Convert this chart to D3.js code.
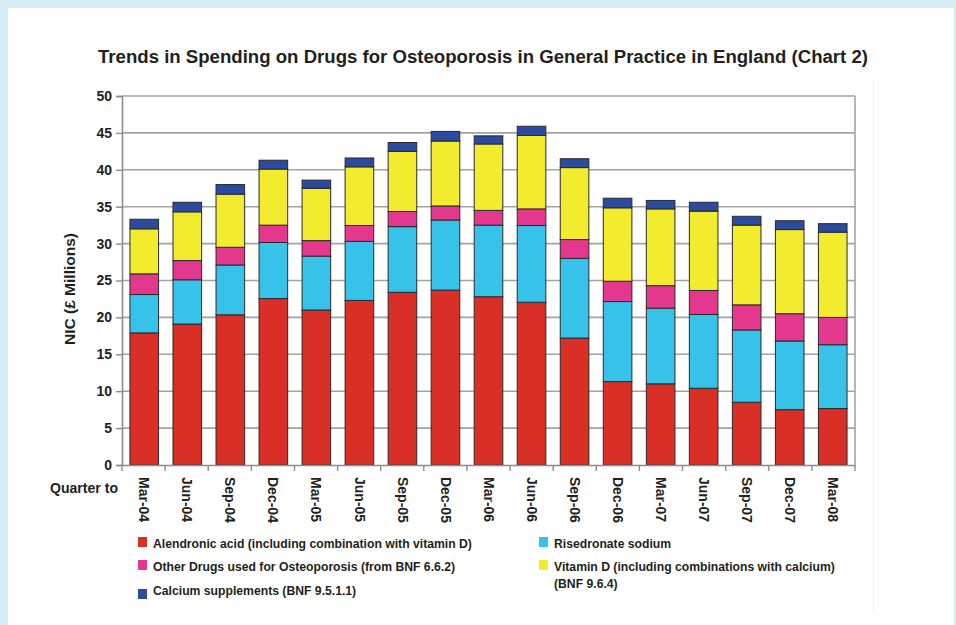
<!DOCTYPE html>
<html lang="en">
<head>
    <meta charset="UTF-8">
    <title>Osteoporosis Drug Spending</title>
    <style>
        body {
            margin: 0;
            background-color: #d5eef5;
        }
        svg text {
            font-family: Arial, "Liberation Sans", sans-serif;
            font-weight: bold;
            fill: #231f20;
        }
    </style>
    <script src="https://d3js.org/d3.v7.min.js"></script>
</head>
<body>
    <svg id="chart" width="956" height="625"></svg>
    <script>
        // Quarters on the x axis
        const quarters = ["Mar-04", "Jun-04", "Sep-04", "Dec-04", "Mar-05", "Jun-05", "Sep-05", "Dec-05",
                          "Mar-06", "Jun-06", "Sep-06", "Dec-06", "Mar-07", "Jun-07", "Sep-07", "Dec-07", "Mar-08"];

        // NIC in £ millions (stack order bottom to top)
        const alendronic = [17.9, 19.1, 20.35, 22.55, 21.0, 22.3, 23.4, 23.7, 22.8, 22.05, 17.2, 11.3, 11.0, 10.4, 8.5, 7.5, 7.65];
        const risedronate = [5.2, 6.0, 6.75, 7.6, 7.3, 8.0, 8.9, 9.5, 9.7, 10.4, 10.8, 10.85, 10.25, 10.0, 9.8, 9.3, 8.65];
        const otherDrugs = [2.8, 2.6, 2.4, 2.35, 2.1, 2.15, 2.05, 1.9, 2.0, 2.25, 2.55, 2.75, 3.05, 3.25, 3.4, 3.7, 3.7];
        const vitaminD = [6.1, 6.6, 7.2, 7.6, 7.1, 7.95, 8.15, 8.8, 9.0, 9.95, 9.75, 9.95, 10.4, 10.75, 10.8, 11.4, 11.55];
        const calcium = [1.3, 1.3, 1.3, 1.2, 1.1, 1.2, 1.2, 1.3, 1.1, 1.25, 1.2, 1.3, 1.15, 1.2, 1.2, 1.2, 1.15];

        const yTicks = [0, 5, 10, 15, 20, 25, 30, 35, 40, 45, 50];

        const series = [
            { key: "alendronic", values: alendronic, color: "#d92f27", label: ["Alendronic acid (including combination with vitamin D)"] },
            { key: "risedronate", values: risedronate, color: "#37c3e9", label: ["Risedronate sodium"] },
            { key: "other", values: otherDrugs, color: "#e3388d", label: ["Other Drugs used for Osteoporosis (from BNF 6.6.2)"] },
            { key: "vitd", values: vitaminD, color: "#f3ec2e", label: ["Vitamin D (including combinations with calcium)", "(BNF 9.6.4)"] },
            { key: "calcium", values: calcium, color: "#2c4a9f", label: ["Calcium supplements (BNF 9.5.1.1)"] }
        ];

        // table for d3.stack
        const table = quarters.map((q, i) => {
            const row = { quarter: q };
            series.forEach(s => row[s.key] = s.values[i]);
            return row;
        });

        const svg = d3.select("#chart");

        // white panel
        svg.append("rect")
            .attr("x", 8).attr("y", 8)
            .attr("width", 946).attr("height", 617)
            .attr("fill", "#fff");

        // faint line on the right of the panel
        svg.append("line")
            .attr("x1", 873.5).attr("x2", 873.5)
            .attr("y1", 80).attr("y2", 612)
            .attr("stroke", "#f1f1f1");

        const plot = { left: 122, right: 855, top: 96, bottom: 465 };

        const x = d3.scaleBand()
            .domain(quarters)
            .range([plot.left, plot.right])
            .paddingInner(0.335)
            .paddingOuter(0.185);

        const y = d3.scaleLinear()
            .domain([0, 50])
            .range([plot.bottom, plot.top]);

        // title
        svg.append("text")
            .attr("x", 483).attr("y", 63)
            .attr("text-anchor", "middle")
            .attr("font-size", 17.5)
            .attr("textLength", 770)
            .attr("lengthAdjust", "spacingAndGlyphs")
            .text("Trends in Spending on Drugs for Osteoporosis in General Practice in England (Chart 2)");

        // gridlines
        svg.append("g")
            .selectAll("line")
            .data(yTicks.filter(t => t > 0))
            .enter().append("line")
            .attr("x1", plot.left).attr("x2", plot.right)
            .attr("y1", d => y(d)).attr("y2", d => y(d))
            .attr("stroke", "#a3a3a3")
            .attr("stroke-width", 1.6);

        // right frame
        svg.append("line")
            .attr("x1", plot.right).attr("x2", plot.right)
            .attr("y1", plot.top).attr("y2", plot.bottom)
            .attr("stroke", "#a3a3a3")
            .attr("stroke-width", 1.6);

        // stacked bars
        const stack = d3.stack().keys(series.map(s => s.key));
        const layers = stack(table);

        svg.append("g")
            .selectAll("g")
            .data(layers)
            .enter().append("g")
            .attr("fill", (d, i) => series[i].color)
            .selectAll("rect")
            .data(d => d)
            .enter().append("rect")
            .attr("x", d => x(d.data.quarter))
            .attr("width", x.bandwidth())
            .attr("y", d => y(d[1]))
            .attr("height", d => y(d[0]) - y(d[1]))
            .attr("stroke", "#2a2a2a")
            .attr("stroke-width", 1);

        // y axis
        const yAxis = svg.append("g")
            .attr("transform", `translate(${plot.left},0)`)
            .call(d3.axisLeft(y).tickValues(yTicks).tickSize(6).tickPadding(4));
        yAxis.select(".domain").attr("stroke", "#8c8c8c").attr("stroke-width", 1.6);
        yAxis.selectAll(".tick line").attr("stroke", "#8c8c8c").attr("stroke-width", 1.4);
        yAxis.selectAll(".tick text")
            .attr("font-size", 14)
            .attr("font-family", null)
            .attr("fill", "#231f20");

        // x axis: ticks between categories
        const xAxis = svg.append("g")
            .attr("transform", `translate(0,${plot.bottom})`)
            .call(d3.axisBottom(x).tickSize(0).tickPadding(0));
        xAxis.select(".domain").attr("stroke", "#8c8c8c").attr("stroke-width", 1.6);
        xAxis.selectAll(".tick text")
            .attr("font-size", 14)
            .attr("font-family", null)
            .attr("fill", "#231f20")
            .attr("text-anchor", "start")
            .attr("transform", "translate(0,12) rotate(90)")
            .attr("dy", "0.35em")
            .attr("y", 0)
            .attr("x", 0);

        const boundaries = d3.range(quarters.length + 1).map(i => plot.left + (plot.right - plot.left) * i / quarters.length);
        svg.append("g")
            .selectAll("line")
            .data(boundaries)
            .enter().append("line")
            .attr("x1", d => d).attr("x2", d => d)
            .attr("y1", plot.bottom).attr("y2", plot.bottom + 6)
            .attr("stroke", "#8c8c8c")
            .attr("stroke-width", 1.4);

        // axis titles
        svg.append("text")
            .attr("transform", "translate(75,289) rotate(-90)")
            .attr("text-anchor", "middle")
            .attr("font-size", 14.5)
            .attr("textLength", 112)
            .attr("lengthAdjust", "spacingAndGlyphs")
            .text("NIC (£ Millions)");

        svg.append("text")
            .attr("x", 50).attr("y", 493)
            .attr("font-size", 14)
            .attr("textLength", 68)
            .attr("lengthAdjust", "spacingAndGlyphs")
            .text("Quarter to");

        // legend
        const legendPos = {
            alendronic: [138, 544],
            other: [138, 567],
            calcium: [138, 591],
            risedronate: [539, 544],
            vitd: [539, 567]
        };

        const legend = svg.append("g")
            .selectAll("g")
            .data(series)
            .enter().append("g")
            .attr("transform", d => `translate(${legendPos[d.key][0]},${legendPos[d.key][1]})`);

        legend.append("rect")
            .attr("x", 0).attr("y", d => d.key === "calcium" ? -2 : -7)
            .attr("width", 9).attr("height", 10)
            .attr("fill", d => d.color);

        legend.append("text")
            .attr("x", 15)
            .attr("font-size", 12.2)
            .selectAll("tspan")
            .data(d => d.label)
            .enter().append("tspan")
            .attr("x", 15)
            .attr("dy", (d, i) => i === 0 ? "0.35em" : "1.4em")
            .text(d => d);
    </script>
</body>
</html>
